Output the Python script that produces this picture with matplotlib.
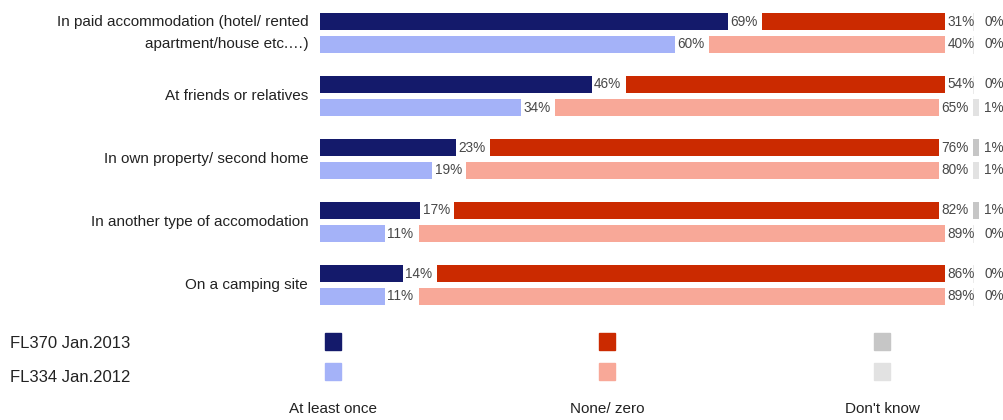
import matplotlib.pyplot as plt
from matplotlib.patches import Rectangle

plt.rcParams['font.family'] = ['Liberation Sans', 'DejaVu Sans']

categories = ['In paid accommodation (hotel/ rented\napartment/house etc.\u2026)',
              'At friends or relatives',
              'In own property/ second home',
              'In another type of accomodation',
              'On a camping site']
waves = ['FL370 Jan.2013', 'FL334 Jan.2012']
answers = ['At least once', 'None/ zero', "Don't know"]

once_2013 = [69, 46, 23, 17, 14]
none_2013 = [31, 54, 76, 82, 86]
dk_2013 = [0, 0, 1, 1, 0]
once_2012 = [60, 34, 19, 11, 11]
none_2012 = [40, 65, 80, 89, 89]
dk_2012 = [0, 1, 1, 0, 0]

col_once = ['#141a6b', '#a4b2f8']
col_none = ['#cb2a00', '#f8a898']
col_dk = ['#c6c6c6', '#e2e2e2']

gap = 5.75      # room left for the label between the two bars
dk_x = 110.5    # fixed column for "don't know"
pair_step = 63
row_step = 23
bar_h = 17

fig = plt.figure(figsize=(10.04, 4.2), dpi=100)
ax = fig.add_axes([320 / 1004, 110 / 420, 684 / 1004, 310 / 420])
ax.set_xlim(0, 684 / 5.91)
ax.set_ylim(310, 0)
ax.axis('off')

series = [(once_2013, none_2013, dk_2013), (once_2012, none_2012, dk_2012)]
for i, cat in enumerate(categories):
    y0 = 21.5 + i * pair_step
    for k, (once, none, dk) in enumerate(series):
        y = y0 + k * row_step
        a, b, d = once[i], none[i], dk[i]
        ax.barh(y, a, height=bar_h, color=col_once[k])
        ax.text(a + 0.4, y, '%d%%' % a, va='center', ha='left', fontsize=9.8, color='#484848')
        ax.barh(y, b, left=a + gap, height=bar_h, color=col_none[k])
        ax.text(a + gap + b + 0.4, y, '%d%%' % b, va='center', ha='left', fontsize=9.8, color='#484848')
        if d > 0:
            ax.barh(y, d, left=dk_x, height=bar_h, color=col_dk[k])
        else:
            ax.plot([dk_x, dk_x], [y - bar_h / 2, y + bar_h / 2], color='#e6e6e6', lw=0.6)
        ax.text(dk_x + 1.9, y, '%d%%' % d, va='center', ha='left', fontsize=9.8, color='#484848')
    ax.text(-2, y0 + row_step / 2, cat, ha='right', va='center', fontsize=11,
            color='#222222', linespacing=1.75)

# legend block
lg = fig.add_axes([0, 0, 1, 110 / 420])
lg.set_xlim(0, 1004)
lg.set_ylim(110, 0)
lg.axis('off')
leg_x = [333, 607, 882]
cols = [col_once, col_none, col_dk]
for k, w in enumerate(waves):
    lg.text(10, 33 + k * 35, w, ha='left', va='center', fontsize=12, color='#222222')
    for j in range(3):
        lg.add_patch(Rectangle((leg_x[j] - 8, 23 + k * 30), 16, 17, color=cols[j][k]))
for j, ans in enumerate(answers):
    lg.text(leg_x[j], 99, ans, ha='center', va='center', fontsize=11, color='#222222')

fig.savefig('out.png', dpi=100)
